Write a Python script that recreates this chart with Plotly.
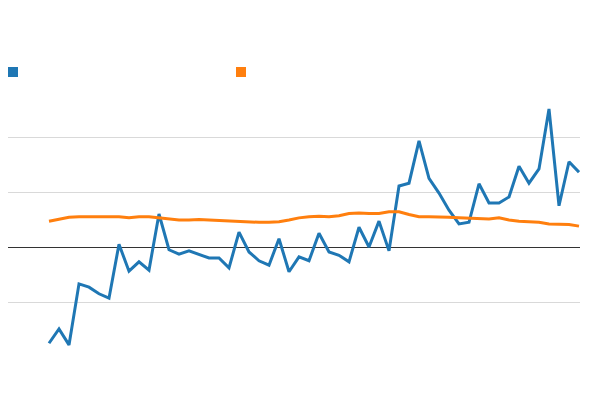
import plotly.graph_objects as go

# sample index along the x axis
idx = list(range(54))

series_a = [-1.75, -1.49, -1.78, -0.67, -0.73, -0.85, -0.93, 0.05, -0.44, -0.27,
            -0.42, 0.6, -0.05, -0.13, -0.07, -0.13, -0.2, -0.2, -0.38, 0.27,
            -0.09, -0.25, -0.33, 0.15, -0.45, -0.18, -0.25, 0.25, -0.09, -0.15,
            -0.27, 0.36, 0.0, 0.47, -0.07, 1.11, 1.16, 1.93, 1.25, 0.98,
            0.67, 0.42, 0.45, 1.15, 0.8, 0.8, 0.91, 1.47, 1.16, 1.42,
            2.51, 0.75, 1.55, 1.36]

series_b = [0.47, 0.5, 0.54, 0.55, 0.55, 0.55, 0.55, 0.55, 0.53, 0.55,
            0.55, 0.53, 0.5, 0.49, 0.49, 0.5, 0.49, 0.48, 0.48, 0.47,
            0.45, 0.45, 0.45, 0.46, 0.49, 0.53, 0.55, 0.56, 0.55, 0.57,
            0.61, 0.62, 0.61, 0.61, 0.64, 0.64, 0.59, 0.55, 0.55, 0.55,
            0.54, 0.53, 0.52, 0.52, 0.51, 0.53, 0.49, 0.47, 0.46, 0.45,
            0.42, 0.41, 0.41, 0.38]

fig = go.Figure()
fig.add_trace(go.Scatter(x=idx, y=series_a, mode='lines', name='',
                         line=dict(color='#1f77b4', width=3), showlegend=False))
fig.add_trace(go.Scatter(x=idx, y=series_b, mode='lines', name='',
                         line=dict(color='#ff7f0e', width=3), showlegend=False))
# square legend swatches, no labels
fig.add_trace(go.Scatter(x=[None], y=[None], mode='markers', name=' ',
                         marker=dict(color='#1f77b4', symbol='square', size=10)))
fig.add_trace(go.Scatter(x=[None], y=[None], mode='markers', name=' ',
                         marker=dict(color='#ff7f0e', symbol='square', size=10)))

fig.update_layout(
    width=600, height=405,
    margin=dict(l=0, r=28, t=87, b=61),
    plot_bgcolor='white', paper_bgcolor='white',
    showlegend=True,
    legend=dict(orientation='h', xref='container', yref='container',
                x=0, xanchor='left', y=0.842, yanchor='middle', indentation=-15,
                entrywidth=198, entrywidthmode='pixels', font=dict(size=10)),
    xaxis=dict(range=[-4.1, 53.1], showgrid=False, zeroline=False,
               showticklabels=False, showline=False),
    yaxis=dict(range=[-1.909, 2.764], dtick=1, showgrid=True, gridcolor='#d9d9d9',
               zeroline=True, zerolinecolor='#333333', zerolinewidth=1,
               showticklabels=False, showline=False),
)

fig.write_html("out.html")
